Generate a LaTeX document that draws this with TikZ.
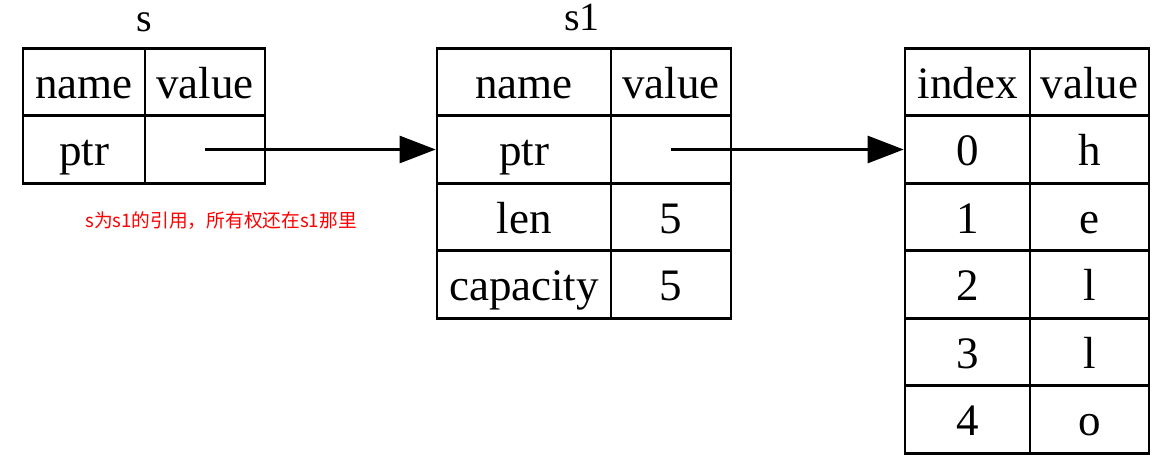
\documentclass[tikz,border=0pt]{standalone}
\usepackage{fontspec}
\setmainfont{Liberation Serif}
\newfontfamily\cjkfont{Noto Sans CJK SC}
\usetikzlibrary{arrows.meta, positioning}
\definecolor{notered}{RGB}{255, 0, 0}

\begin{document}
\begin{tikzpicture}[
  x=1pt, y=-1pt,
  cell/.style={draw, line width=2.6pt, inner sep=0pt, minimum height=67.5pt, text height=32pt, text depth=0pt, font=\fontsize{45}{50}\selectfont},
  tabletitle/.style={inner sep=0pt, anchor=base, font=\fontsize{40}{44}\selectfont},
  ptrarrow/.style={line width=2.6pt, -{Triangle[length=36pt, width=27pt]}},
  note/.style={text=notered, inner sep=0pt, font=\cjkfont\fontsize{18.7}{22}\selectfont}
]
  \useasboundingbox (0,0) rectangle (1172,460);

  % s
  \node[tabletitle] (s-title) at (144, 32) {s};
  \node[cell, minimum width=122pt] (s-name) at (84, 82) {name};
  \node[cell, minimum width=120pt] (s-value) at (205, 82) {value};
  \node[cell, minimum width=122pt] (s-ptr) at (84, 149.5) {ptr};
  \node[cell, minimum width=120pt] (s-ptrv) at (205, 149.5) {};

  % s1
  \node[tabletitle] (s1-title) at (582, 31) {s1};
  \node[cell, minimum width=174pt] (s1-name) at (524, 82) {name};
  \node[cell, minimum width=120pt] (s1-value) at (671, 82) {value};
  \node[cell, minimum width=174pt] (s1-ptr) at (524, 149.5) {ptr};
  \node[cell, minimum width=120pt] (s1-ptrv) at (671, 149.5) {};
  \node[cell, minimum width=174pt] (s1-len) at (524, 217) {len};
  \node[cell, minimum width=120pt] (s1-lenv) at (671, 217) {5};
  \node[cell, minimum width=174pt] (s1-cap) at (524, 284.5) {capacity};
  \node[cell, minimum width=120pt] (s1-capv) at (671, 284.5) {5};

  % heap
  \node[cell, minimum width=125pt] (arr-index) at (967.5, 82) {index};
  \node[cell, minimum width=119pt] (arr-value) at (1089.5, 82) {value};
  \foreach \i/\c [count=\r] in {0/h, 1/e, 2/l, 3/l, 4/o} {
    \node[cell, minimum width=125pt] (arr-i\i) at (967.5, 82+67.5*\r) {\i};
    \node[cell, minimum width=119pt] (arr-v\i) at (1089.5, 82+67.5*\r) {\c};
  }

  \draw[ptrarrow] (s-ptrv.center) -- (s1-ptr.west);
  \draw[ptrarrow] (s1-ptrv.center) -- (arr-i0.west);

  \node[note] (s-note) at (221, 221) {s为s1的引用，所有权还在s1那里};
\end{tikzpicture}
\end{document}
